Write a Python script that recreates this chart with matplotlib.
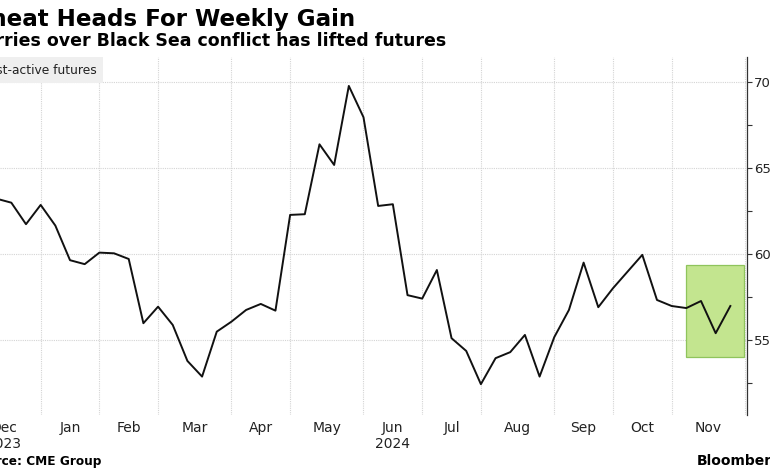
import datetime as dt
import numpy as np
import pandas as pd
import matplotlib

matplotlib.use("Agg")
import matplotlib.pyplot as plt
import matplotlib.dates as mdates
from matplotlib.patches import Rectangle

plt.rcParams.update({
    "font.family": ["DejaVu Sans"],
    "font.size": 10,
})

# ---------------------------------------------------------------------------
# Weekly most-active wheat futures (Friday closes)
# ---------------------------------------------------------------------------
FIRST_WEEK = "2023-12-15"
LAST_WEEK = "2024-11-29"
PRICES = [
    63.2, 62.97, 61.72,                      # Dec
    62.84, 61.64, 59.63, 59.40,              # Jan
    60.07, 60.03, 59.70, 55.97,              # Feb
    56.93, 55.87, 53.78, 52.87, 55.48,       # Mar
    56.06, 56.74, 57.09, 56.70,              # Apr
    62.26, 62.30, 66.36, 65.16, 69.75,       # May
    67.93, 62.78, 62.88, 57.60,              # Jun
    57.40, 59.06, 55.10, 54.36,              # Jul
    52.43, 53.94, 54.29, 55.29, 52.87,       # Aug
    55.16, 56.74, 59.49, 56.90,              # Sep
    58.00, 58.97, 59.94, 57.32,              # Oct
    56.97, 56.85, 57.26, 55.39, 56.97,       # Nov
]
MONTH_NAMES = ["Dec", "Jan", "Feb", "Mar", "Apr", "May", "Jun",
               "Jul", "Aug", "Sep", "Oct", "Nov"]
YEAR_LABELS = {"Dec": "2023", "Jun": "2024"}
Y_TICKS = [55, 60, 65, 70]
Y_MINOR = [52.5, 57.5, 62.5, 67.5]

# highlighted last weeks (green box)
HIGHLIGHT_START = "2024-11-08"
HIGHLIGHT_END = "2024-12-06"
HIGHLIGHT_LOW, HIGHLIGHT_HIGH = 54.0, 59.36

TITLE = "Wheat Heads For Weekly Gain"
SUBTITLE = "Worries over Black Sea conflict has lifted futures"
LEGEND = "Most-active futures"
SOURCE = "Source: CME Group"

W, H = 770, 470


def px_x(x):
    return x / W


def px_y(y):
    return 1 - y / H


dates = pd.date_range(FIRST_WEEK, LAST_WEEK, freq="W-FRI")
xd = mdates.date2num(dates.to_pydatetime())

# month boundaries sit on the first weekly point of each month
fridays = pd.date_range("2023-12-01", "2024-12-31", freq="W-FRI")
firsts = fridays.to_series().groupby([fridays.year, fridays.month]).first()
month_x = mdates.date2num(pd.DatetimeIndex(firsts.values).to_pydatetime())
mids = (month_x[:-1] + month_x[1:]) / 2

fig = plt.figure(figsize=(W / 100, H / 100), dpi=100)
ax = fig.add_axes([0, px_y(415), px_x(746.7), px_y(57) - px_y(415)])

for xv in month_x:
    ax.axvline(xv, color="#d4d4d4", lw=0.8, ls=(0, (1, 1)), zorder=0)
for yv in Y_TICKS:
    ax.axhline(yv, color="#d4d4d4", lw=0.8, ls=(0, (1, 1)), zorder=0)

hx0 = mdates.date2num(pd.Timestamp(HIGHLIGHT_START).to_pydatetime())
hx1 = mdates.date2num(pd.Timestamp(HIGHLIGHT_END).to_pydatetime()) - 0.6
ax.add_patch(Rectangle((hx0, HIGHLIGHT_LOW), hx1 - hx0,
                       HIGHLIGHT_HIGH - HIGHLIGHT_LOW,
                       facecolor="#c3e58f", edgecolor="#8fc45c", lw=0.9,
                       zorder=1))

ax.plot(xd, PRICES, color="#111111", lw=1.4, zorder=3)

ax.set_xlim(xd[0] + 1.6, mdates.date2num(dt.datetime(2024, 12, 6)) + 0.8)
ax.set_ylim(50.64, 71.43)

ax.yaxis.tick_right()
ax.set_yticks(Y_TICKS)
ax.set_yticks(Y_MINOR, minor=True)
ax.tick_params(axis="y", which="both", direction="out", length=3.5,
               width=0.8, color="#333333", labelsize=9.5, pad=2,
               labelcolor="#222222")

labels = [m + ("\n" + YEAR_LABELS[m] if m in YEAR_LABELS else "")
          for m in MONTH_NAMES]
ax.set_xticks(mids)
ax.set_xticklabels(labels, linespacing=1.25, va="top")
ax.tick_params(axis="x", length=0, pad=4, labelsize=10, labelcolor="#222222")

for sp in ("left", "top", "bottom"):
    ax.spines[sp].set_visible(False)
ax.spines["right"].set_color("#333333")
ax.spines["right"].set_linewidth(0.9)

# headline texts (cropped on the left like the source image)
fig.text(px_x(355), px_y(26), TITLE, ha="right", va="baseline",
         fontsize=16.6, fontweight="bold", color="#000000")
fig.text(px_x(446), px_y(46.5), SUBTITLE, ha="right", va="baseline",
         fontsize=12.5, fontweight="bold", color="#000000")

fig.patches.append(Rectangle((0, px_y(83)), px_x(103), px_y(57) - px_y(83),
                             transform=fig.transFigure, facecolor="#efefef",
                             edgecolor="none", zorder=4))
fig.text(px_x(97), px_y(71), LEGEND, ha="right", va="center",
         fontsize=8.8, color="#222222", zorder=5)

fig.text(px_x(101.5), px_y(465), SOURCE, ha="right", va="baseline",
         fontsize=8.7, fontweight="bold", color="#000000")
fig.text(px_x(697), px_y(465), "Bloomberg", ha="left", va="baseline",
         fontsize=10, fontweight="bold", color="#000000")

fig.savefig("out.png", dpi=100)
